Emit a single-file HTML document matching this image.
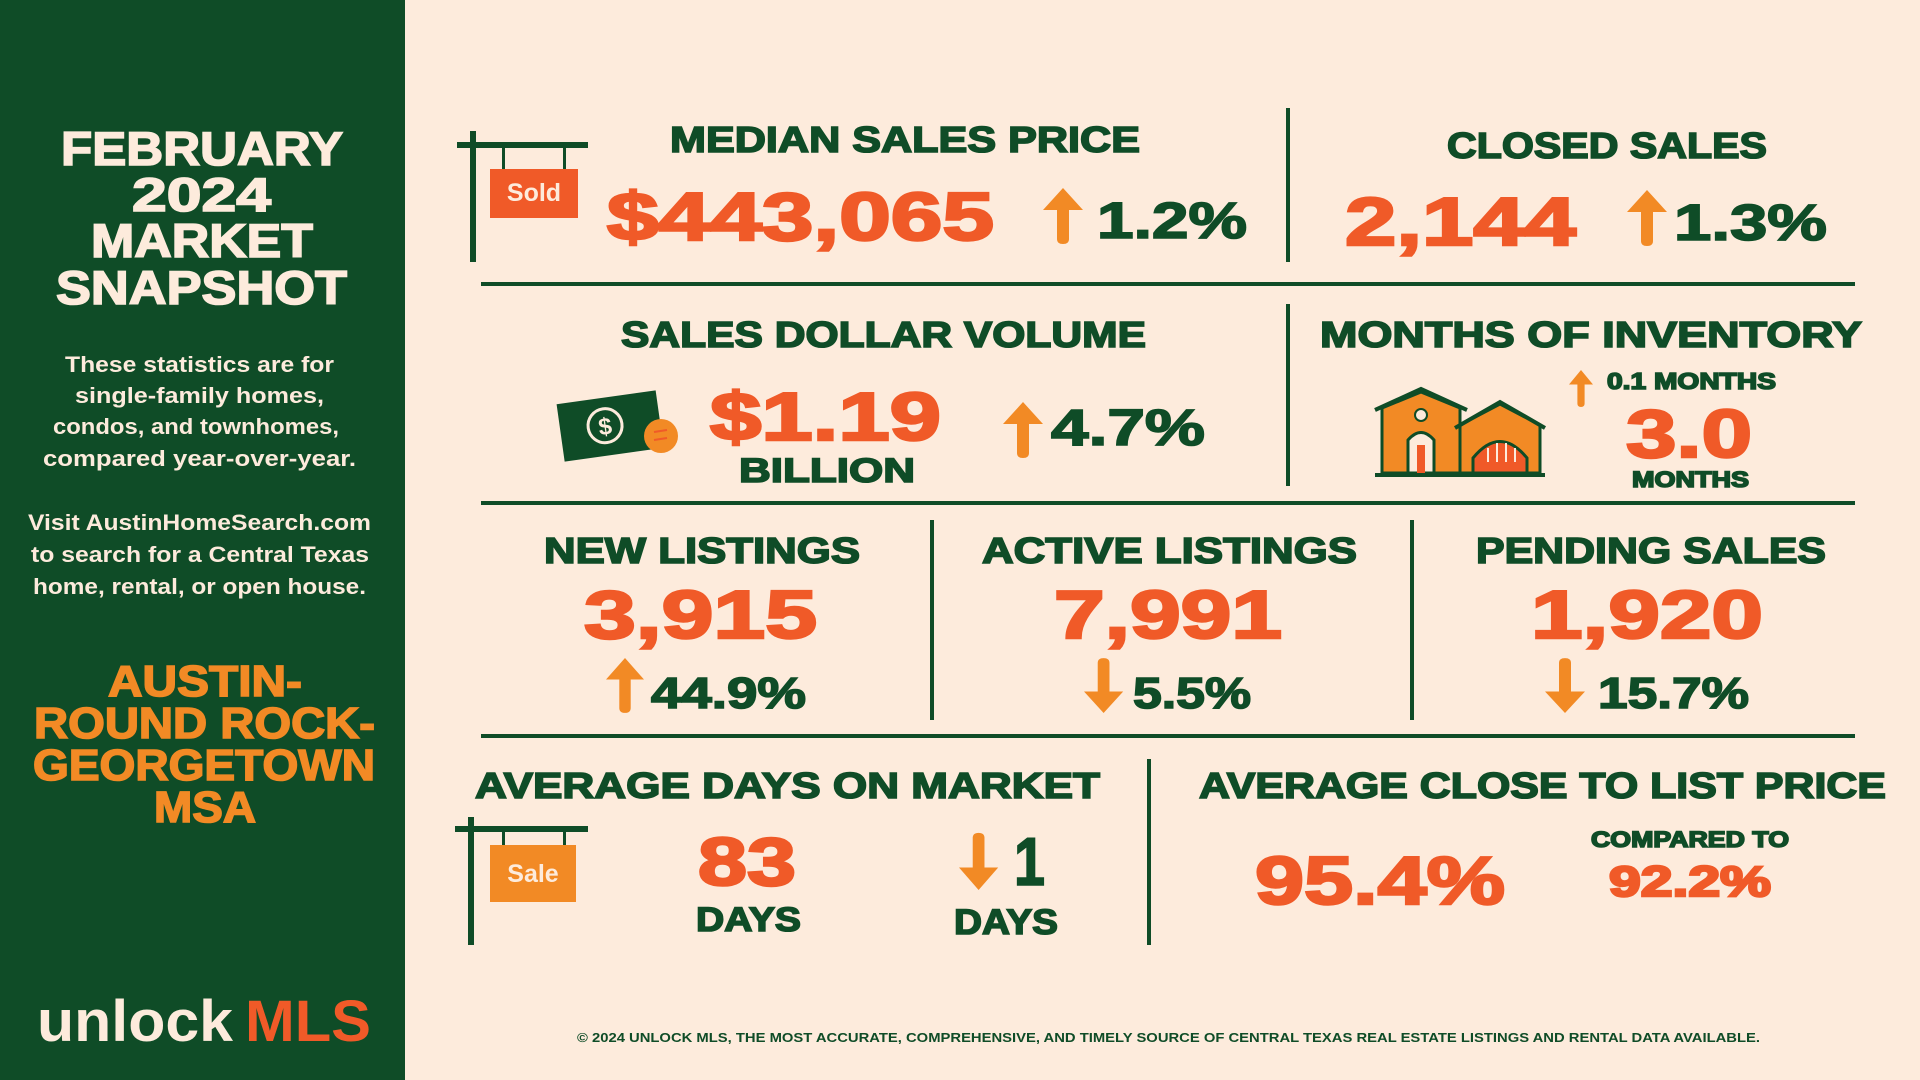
<!DOCTYPE html>
<html><head><meta charset="utf-8"><style>
html,body{margin:0;padding:0;background:#fdebdc;}
svg{display:block}
text{font-family:"Liberation Sans",sans-serif;font-weight:bold}
.h{stroke-width:1.6;paint-order:stroke}
</style></head><body>
<svg width="1920" height="1080" viewBox="0 0 1920 1080" xmlns="http://www.w3.org/2000/svg">
<defs>
<g id="up"><path d="M20,0 L40,22 L26,22 L26,51 Q26,56 20,56 Q14,56 14,51 L14,22 L0,22 Z"/></g>
</defs>
<rect width="1920" height="1080" fill="#fdebdc"/>
<rect width="405" height="1080" fill="#0f4c27"/>
<g fill="#fdebdc" stroke="#fdebdc" class="h" font-size="47">
<text x="61" y="165" textLength="282" lengthAdjust="spacingAndGlyphs">FEBRUARY</text>
<text x="132" y="211" textLength="139" lengthAdjust="spacingAndGlyphs">2024</text>
<text x="91" y="257" textLength="222" lengthAdjust="spacingAndGlyphs">MARKET</text>
<text x="56" y="304" textLength="291" lengthAdjust="spacingAndGlyphs">SNAPSHOT</text>
</g>
<g fill="#fdebdc" font-size="22">
<text x="65" y="372" textLength="269" lengthAdjust="spacingAndGlyphs">These statistics are for</text>
<text x="75" y="403" textLength="249" lengthAdjust="spacingAndGlyphs">single-family homes,</text>
<text x="53" y="434" textLength="286" lengthAdjust="spacingAndGlyphs">condos, and townhomes,</text>
<text x="43" y="466" textLength="313" lengthAdjust="spacingAndGlyphs">compared year-over-year.</text>
<text x="28" y="530" textLength="343" lengthAdjust="spacingAndGlyphs">Visit AustinHomeSearch.com</text>
<text x="31" y="562" textLength="338" lengthAdjust="spacingAndGlyphs">to search for a Central Texas</text>
<text x="33" y="594" textLength="333" lengthAdjust="spacingAndGlyphs">home, rental, or open house.</text>
</g>
<g fill="#f28a25" stroke="#f28a25" class="h" font-size="44">
<text x="108" y="696" textLength="194" lengthAdjust="spacingAndGlyphs">AUSTIN-</text>
<text x="34" y="738" textLength="341" lengthAdjust="spacingAndGlyphs">ROUND ROCK-</text>
<text x="33" y="780" textLength="342" lengthAdjust="spacingAndGlyphs">GEORGETOWN</text>
<text x="154" y="822" textLength="102" lengthAdjust="spacingAndGlyphs">MSA</text>
</g>
<text x="37" y="1041" font-size="58" fill="#fdebdc" textLength="196" lengthAdjust="spacingAndGlyphs">unlock</text>
<text x="245" y="1041" font-size="58" fill="#f05a28" textLength="126" lengthAdjust="spacingAndGlyphs">MLS</text>

<g fill="#0f4c27">
<rect x="1286" y="108" width="4" height="154"/>
<rect x="481" y="282" width="1374" height="4"/>
<rect x="1286" y="304" width="4" height="182"/>
<rect x="481" y="501" width="1374" height="4"/>
<rect x="930" y="520" width="4" height="200"/>
<rect x="1410" y="520" width="4" height="200"/>
<rect x="481" y="734" width="1374" height="4"/>
<rect x="1147" y="759" width="4" height="186"/>
</g>

<g fill="#0f4c27">
<rect x="470" y="131" width="6" height="131"/>
<rect x="457" y="142" width="131" height="6"/>
<rect x="502" y="148" width="3" height="22"/>
<rect x="563" y="148" width="3" height="22"/>
</g>
<rect x="490" y="169" width="88" height="49" fill="#f05a28"/>
<text x="534" y="201" font-size="25" fill="#fdebdc" text-anchor="middle">Sold</text>

<g fill="#0f4c27" stroke="#0f4c27" class="h" font-size="36">
<text x="670" y="152" textLength="470" lengthAdjust="spacingAndGlyphs">MEDIAN SALES PRICE</text>
<text x="1447" y="158" textLength="320" lengthAdjust="spacingAndGlyphs">CLOSED SALES</text>
<text x="621" y="347" textLength="525" lengthAdjust="spacingAndGlyphs">SALES DOLLAR VOLUME</text>
<text x="1320" y="347" textLength="542" lengthAdjust="spacingAndGlyphs">MONTHS OF INVENTORY</text>
<text x="544" y="563" textLength="316" lengthAdjust="spacingAndGlyphs">NEW LISTINGS</text>
<text x="982" y="563" textLength="375" lengthAdjust="spacingAndGlyphs">ACTIVE LISTINGS</text>
<text x="1476" y="563" textLength="350" lengthAdjust="spacingAndGlyphs">PENDING SALES</text>
<text x="475" y="798" textLength="625" lengthAdjust="spacingAndGlyphs">AVERAGE DAYS ON MARKET</text>
<text x="1199" y="798" textLength="687" lengthAdjust="spacingAndGlyphs">AVERAGE CLOSE TO LIST PRICE</text>
</g>

<g fill="#f05a28" stroke="#f05a28" class="h" font-size="68" style="stroke-width:2.5">
<text x="607" y="240" textLength="387" lengthAdjust="spacingAndGlyphs">$443,065</text>
<text x="1345" y="245" textLength="231" lengthAdjust="spacingAndGlyphs">2,144</text>
<text x="710" y="440" textLength="231" lengthAdjust="spacingAndGlyphs">$1.19</text>
<text x="1626" y="457" textLength="126" lengthAdjust="spacingAndGlyphs">3.0</text>
<text x="584" y="638" textLength="233" lengthAdjust="spacingAndGlyphs">3,915</text>
<text x="1054" y="638" textLength="228" lengthAdjust="spacingAndGlyphs">7,991</text>
<text x="1531" y="638" textLength="232" lengthAdjust="spacingAndGlyphs">1,920</text>
<text x="698" y="885" textLength="98" lengthAdjust="spacingAndGlyphs">83</text>
<text x="1255" y="904" textLength="250" lengthAdjust="spacingAndGlyphs">95.4%</text>
<text x="1609" y="896" font-size="43" textLength="162" lengthAdjust="spacingAndGlyphs">92.2%</text>
</g>

<g fill="#0f4c27" stroke="#0f4c27" class="h">
<text x="1097" y="238" font-size="51" textLength="150" lengthAdjust="spacingAndGlyphs">1.2%</text>
<text x="1674" y="240" font-size="51" textLength="153" lengthAdjust="spacingAndGlyphs">1.3%</text>
<text x="1051" y="445" font-size="51" textLength="154" lengthAdjust="spacingAndGlyphs">4.7%</text>
<text x="739" y="482" font-size="34" textLength="176" lengthAdjust="spacingAndGlyphs">BILLION</text>
<text x="1607" y="389" font-size="23" textLength="169" lengthAdjust="spacingAndGlyphs">0.1 MONTHS</text>
<text x="1632" y="487" font-size="22" textLength="117" lengthAdjust="spacingAndGlyphs">MONTHS</text>
<text x="651" y="708" font-size="44" textLength="155" lengthAdjust="spacingAndGlyphs">44.9%</text>
<text x="1133" y="708" font-size="44" textLength="118" lengthAdjust="spacingAndGlyphs">5.5%</text>
<text x="1598" y="708" font-size="44" textLength="151" lengthAdjust="spacingAndGlyphs">15.7%</text>
<text x="696" y="931" font-size="34" textLength="105" lengthAdjust="spacingAndGlyphs">DAYS</text>
<text x="1014" y="885" font-size="68" textLength="31" lengthAdjust="spacingAndGlyphs">1</text>
<text x="954" y="934" font-size="35" textLength="104" lengthAdjust="spacingAndGlyphs">DAYS</text>
<text x="1591" y="847" font-size="22" textLength="198" lengthAdjust="spacingAndGlyphs">COMPARED TO</text>
</g>
<text x="577" y="1042" font-size="13" fill="#0f4c27" textLength="1183" lengthAdjust="spacingAndGlyphs">© 2024 UNLOCK MLS, THE MOST ACCURATE, COMPREHENSIVE, AND TIMELY SOURCE  OF CENTRAL TEXAS REAL ESTATE LISTINGS AND RENTAL DATA AVAILABLE.</text>

<g fill="#f28a25">
<use href="#up" transform="translate(1043,188)"/>
<use href="#up" transform="translate(1627,190)"/>
<use href="#up" transform="translate(1003,402)"/>
<use href="#up" transform="translate(606,658) scale(0.95,0.98)"/>
<use href="#up" transform="translate(1569,370) scale(0.6,0.66)"/>
<use href="#up" transform="translate(1084,713) scale(0.98,-0.98)"/>
<use href="#up" transform="translate(1545,713) scale(1,-0.98)"/>
<use href="#up" transform="translate(959,890) scale(0.98,-1.02)"/>
</g>

<g transform="rotate(-8 610 425)">
<rect x="560" y="397" width="100" height="58" fill="#0f4c27"/>
<circle cx="605" cy="425" r="17" fill="none" stroke="#fdebdc" stroke-width="3"/>
<text x="605" y="434" font-size="24" fill="#fdebdc" text-anchor="middle">$</text>
</g>
<circle cx="661" cy="436" r="17" fill="#f28a25"/>
<g stroke="#f05a28" stroke-width="2"><line x1="654" y1="432" x2="667" y2="430"/><line x1="654" y1="440" x2="667" y2="438"/></g>

<g>
<rect x="1375" y="473" width="170" height="4" fill="#0f4c27"/>
<path d="M1382,473 L1382,408 L1421,392 L1460,408 L1460,473 Z" fill="#f28a25" stroke="#0f4c27" stroke-width="3"/>
<path d="M1375,410 L1421,389 L1467,410" fill="none" stroke="#0f4c27" stroke-width="4"/>
<path d="M1460,473 L1460,425 L1500,404 L1540,425 L1540,473 Z" fill="#f28a25" stroke="#0f4c27" stroke-width="3"/>
<path d="M1455,428 L1500,402 L1545,428" fill="none" stroke="#0f4c27" stroke-width="4"/>
<path d="M1408,473 L1408,440 Q1421,425 1434,440 L1434,473 Z" fill="#fdebdc" stroke="#0f4c27" stroke-width="3"/>
<rect x="1417" y="445" width="8" height="28" fill="#f05a28"/>
<circle cx="1421" cy="415" r="6" fill="#fdebdc" stroke="#0f4c27" stroke-width="2"/>
<path d="M1473,473 L1473,458 Q1500,425 1527,458 L1527,473 Z" fill="#f05a28" stroke="#0f4c27" stroke-width="3"/>
<g stroke="#fdebdc" stroke-width="2"><line x1="1488" y1="448" x2="1488" y2="462"/><line x1="1497" y1="443" x2="1497" y2="462"/><line x1="1506" y1="443" x2="1506" y2="462"/><line x1="1515" y1="448" x2="1515" y2="462"/></g>
</g>

<g fill="#0f4c27">
<rect x="468" y="817" width="6" height="128"/>
<rect x="455" y="826" width="133" height="6"/>
<rect x="502" y="832" width="3" height="14"/>
<rect x="563" y="832" width="3" height="14"/>
</g>
<rect x="490" y="845" width="86" height="57" fill="#f28a25"/>
<text x="533" y="882" font-size="25" fill="#fdebdc" text-anchor="middle">Sale</text>
</svg>
</body></html>
